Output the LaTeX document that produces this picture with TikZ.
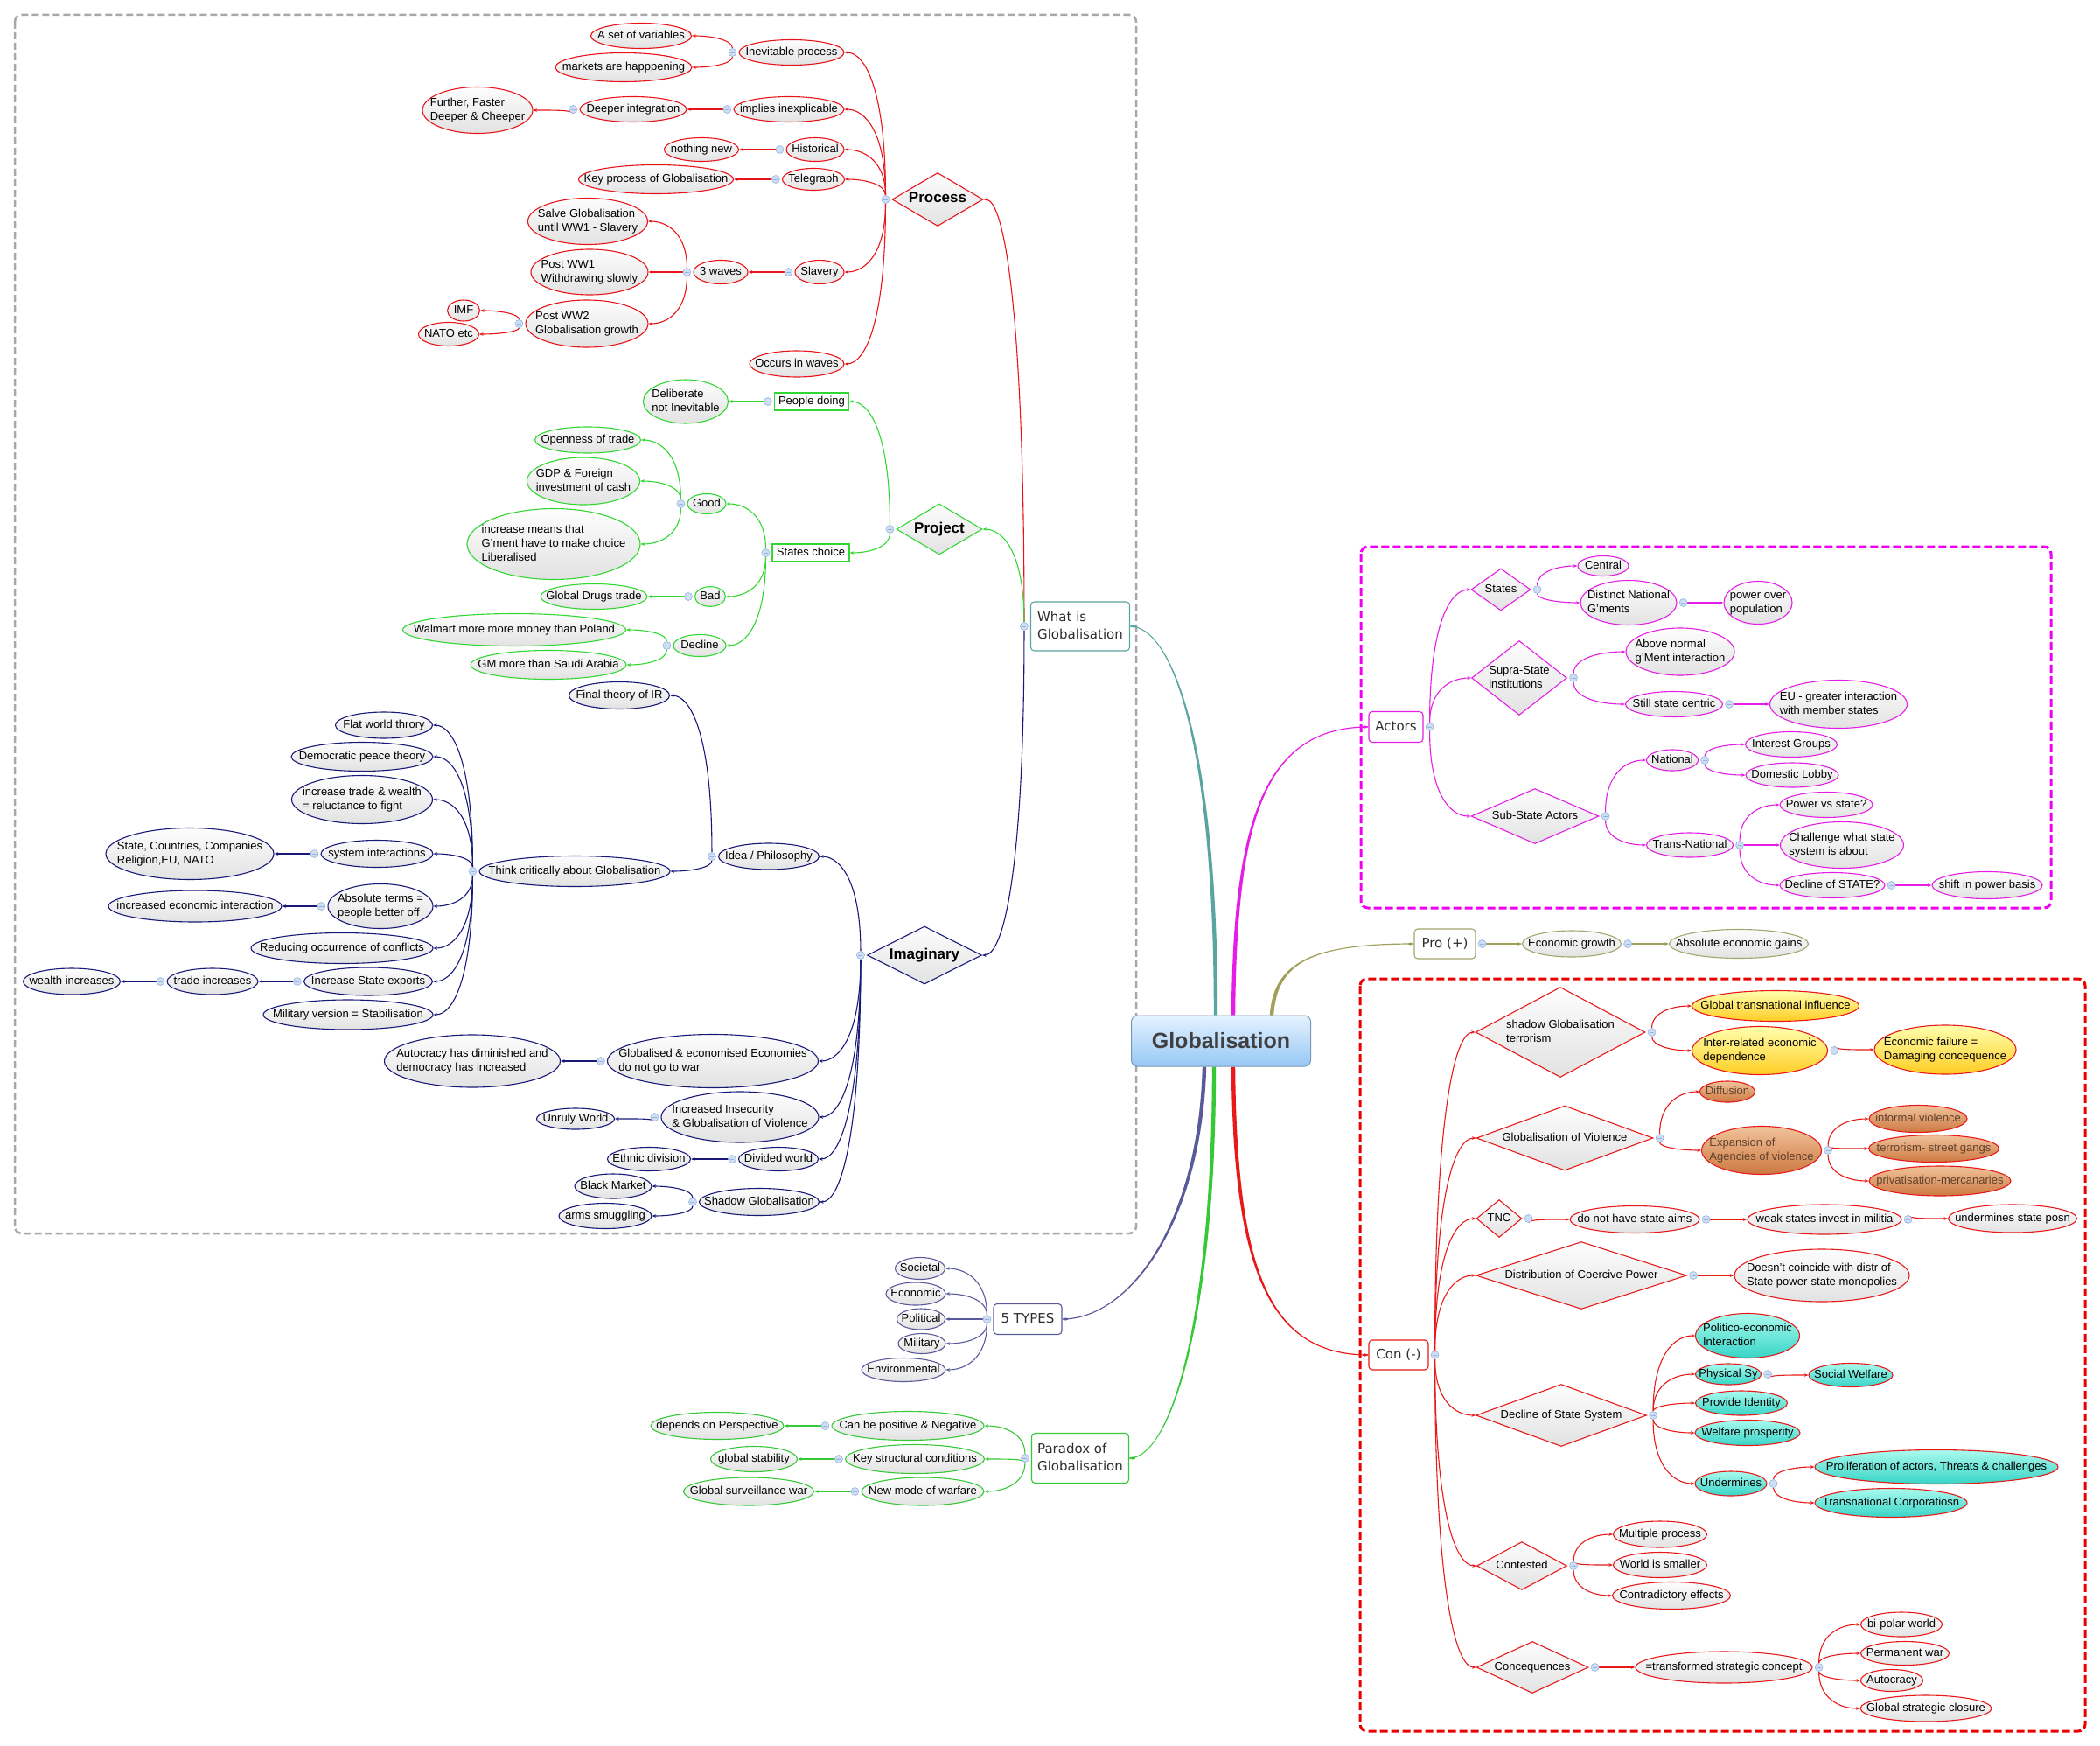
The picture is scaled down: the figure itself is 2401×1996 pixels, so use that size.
\documentclass[tikz,border=0pt]{standalone}
\usepackage{fontspec}
\setmainfont{Liberation Sans}
\newfontfamily\dvfont{DejaVu Sans}
\usetikzlibrary{shapes.geometric,arrows.meta,calc}
\pgfdeclarelayer{edges}
\pgfsetlayers{edges,main}
\definecolor{cP}{RGB}{232,20,25}
\definecolor{cJ}{RGB}{50,215,50}
\definecolor{cI}{RGB}{25,25,120}
\definecolor{cT}{RGB}{90,90,155}
\definecolor{cG}{RGB}{55,200,55}
\definecolor{cA}{RGB}{228,30,228}
\definecolor{cO}{RGB}{160,160,90}
\definecolor{cC}{RGB}{232,25,25}
\definecolor{cTeal}{RGB}{90,165,160}
\definecolor{eTop}{RGB}{253,253,253}
\definecolor{eBot}{RGB}{226,226,226}
\definecolor{yTop}{RGB}{255,255,175}
\definecolor{yBot}{RGB}{255,205,35}
\definecolor{bTop}{RGB}{240,195,155}
\definecolor{bBot}{RGB}{205,120,65}
\definecolor{bTx}{RGB}{95,65,45}
\definecolor{tTop}{RGB}{170,250,238}
\definecolor{tBot}{RGB}{55,212,198}
\definecolor{kFill}{RGB}{205,222,245}
\definecolor{kDraw}{RGB}{150,180,220}
\definecolor{gTop}{RGB}{228,242,255}
\definecolor{gBot}{RGB}{150,200,245}
\definecolor{gDraw}{RGB}{125,150,180}
\definecolor{gTxt}{RGB}{64,64,64}
\definecolor{boxTxt}{RGB}{45,45,45}
\definecolor{dashG}{RGB}{168,168,168}
\definecolor{dashM}{RGB}{240,0,240}
\definecolor{dashR}{RGB}{235,0,0}
\definecolor{oBord}{RGB}{165,165,110}

\newcommand\zb[1]{\makebox[0pt]{\begin{tabular}{@{}l@{}}#1\end{tabular}}}
\newcommand\nd[6]{\node[#1,minimum width=#4pt,minimum height=#5pt] (#2) at (#3) {\zb{#6}};}
\newcommand\kl[1]{\node[knob] (k#1) at ($(#1.west)+(-7,0)$) {};}
\newcommand\kr[1]{\node[knob] (k#1) at ($(#1.east)+(7,0)$) {};}
\newcommand\E[3]{\draw[lk=#1] (#2) .. controls ($(#2)!0.75!(#2|-#3)$) and ($(#3)!0.5!(#2|-#3)$) .. (#3);}
\newcommand\trunk[7]{%
 \fill[#1] ($(#2)+(#6,0)$) .. controls ($(#3)+(#6,0)$) and ($(#4)+(0,#7)$) .. ($(#5)+(0,#7)$) -- ($(#5)+(0,{-(#7)})$) .. controls ($(#4)+(0,{-(#7)})$) and ($(#3)+({-(#6)},0)$) .. ($(#2)+({-(#6)},0)$) -- cycle;
 \draw[lk=#1] ($(#5)+({-3*(#6)},0)$) -- (#5);}

\tikzset{
 nbase/.style={inner sep=0pt, font=\fontsize{13}{16}\selectfont, line width=1.1pt},
 gf/.style={top color=eTop, bottom color=eBot},
 el/.style={nbase, ellipse, draw=#1, gf},
 dm/.style={nbase, diamond, draw=#1, gf},
 rb/.style={nbase, rectangle, draw=#1, fill=white},
 tb/.style={nbase, rectangle, rounded corners=4pt, draw=#1, fill=white, text=boxTxt, font=\dvfont\fontsize{15}{20}\selectfont},
 bf/.style={font=\bfseries\fontsize{17}{20}\selectfont},
 yel/.style={top color=yTop, bottom color=yBot},
 brn/.style={top color=bTop, bottom color=bBot, text=bTx},
 tea/.style={top color=tTop, bottom color=tBot},
 lk/.style={draw=#1, line width=1.1pt, -{Stealth[length=4.5pt,width=3.6pt]}},
 knob/.style={circle, minimum size=9pt, inner sep=0pt, fill=kFill, draw=kDraw, line width=0.6pt,
   path picture={\draw[kDraw, line width=0.9pt] ([xshift=2pt]path picture bounding box.west) -- ([xshift=-2pt]path picture bounding box.east);}},
 ctr/.style={rectangle, rounded corners=7pt, draw=gDraw, line width=1pt, top color=gTop, bottom color=gBot,
   inner sep=0pt, text=gTxt, font=\bfseries\fontsize{25}{28}\selectfont},
}

\begin{document}
\begin{tikzpicture}[x=1pt,y=-1pt]
\useasboundingbox (0,0) rectangle (2401,1996);

% centre
\node[ctr, minimum width=205pt, minimum height=58pt] (glob) at (1396,1190) {Globalisation};

% first level boxes
\nd{tb=cTeal}{whatis}{1235,716}{113}{56}{What is\\Globalisation}
\nd{tb=cT}{types}{1175,1508}{78}{35}{5 TYPES}
\nd{tb=cG}{para}{1235,1667}{111}{57}{Paradox of\\Globalisation}
\nd{tb=cA}{actors}{1596,831}{62}{35}{Actors}
\nd{tb=oBord}{pro}{1652,1079}{70}{34}{Pro (+)}
\nd{tb=cC}{con}{1599,1549}{68}{34}{Con (-)}

% Process
\nd{dm=cP,bf}{proc}{1072,228}{104}{61}{Process}
\nd{el=cP}{inev}{905,60}{120}{29}{Inevitable process}
\nd{el=cP}{aset}{733,41}{115}{29}{A set of variables}
\nd{el=cP}{mkts}{713,77}{156}{33}{markets are happpening}
\nd{el=cP}{impl}{902,125}{126}{29}{implies inexplicable}
\nd{el=cP}{deeper}{724,125}{122}{29}{Deeper integration}
\nd{el=cP}{further}{546,126}{126}{53}{Further, Faster\\Deeper \& Cheeper}
\nd{el=cP}{hist}{932,171}{66}{27}{Historical}
\nd{el=cP}{nothing}{802,171}{85}{27}{nothing new}
\nd{el=cP}{tele}{930,205}{71}{25}{Telegraph}
\nd{el=cP}{keyp}{750,205}{177}{33}{Key process of Globalisation}
\nd{el=cP}{slav}{937,311}{56}{27}{Slavery}
\nd{el=cP}{wav}{824,311}{62}{27}{3 waves}
\nd{el=cP}{salve}{672,253}{137}{53}{Salve Globalisation\\until WW1 - Slavery}
\nd{el=cP}{pwwa}{674,311}{134}{52}{Post WW1\\Withdrawing slowly}
\nd{el=cP}{pwwb}{671,370}{140}{54}{Post WW2\\Globalisation growth}
\nd{el=cP}{imf}{530,355}{37}{24}{IMF}
\nd{el=cP}{nato}{513,382}{69}{27}{NATO etc}
\nd{el=cP}{occ}{911,416}{108}{30}{Occurs in waves}

% Project
\nd{dm=cJ,bf}{proj}{1074,605}{98}{58}{Project}
\nd{rb=cJ}{people}{928,459}{85}{20}{People doing}
\nd{el=cJ}{delib}{784,459}{97}{50}{Deliberate\\not Inevitable}
\nd{rb=cJ}{stch}{927,632}{88}{20}{States choice}
\nd{el=cJ}{good}{808,576}{44}{23}{Good}
\nd{el=cJ}{open}{672,503}{121}{30}{Openness of trade}
\nd{el=cJ}{gdp}{667,550}{129}{54}{GDP \& Foreign\\investment of cash}
\nd{el=cJ}{incm}{633,622}{198}{81}{increase means that\\G'ment have to make choice\\Liberalised}
\nd{el=cJ}{bad}{812,682}{35}{21}{Bad}
\nd{el=cJ}{drugs}{679,682}{122}{29}{Global Drugs trade}
\nd{el=cJ}{decl}{800,738}{60}{25}{Decline}
\nd{el=cJ}{walm}{588,720}{255}{37}{Walmart more more money than Poland}
\nd{el=cJ}{gm}{627,760}{178}{33}{GM more than Saudi Arabia}

% Imaginary
\nd{dm=cI,bf}{imag}{1057,1092}{131}{66}{Imaginary}
\nd{el=cI}{idea}{879,979}{115}{30}{Idea / Philosophy}
\nd{el=cI}{final}{708,795}{115}{31}{Final theory of IR}
\nd{el=cI}{think}{657,996}{218}{35}{Think critically about Globalisation}
\nd{el=cI}{flat}{439,829}{111}{30}{Flat world throry}
\nd{el=cI}{demo}{414,865}{162}{33}{Democratic peace theory}
\nd{el=cI}{inct}{414,914}{161}{55}{increase trade \& wealth\\= reluctance to fight}
\nd{el=cI}{sysi}{431,976}{128}{31}{system interactions}
\nd{el=cI}{stco}{217,976}{192}{59}{State, Countries, Companies\\Religion,EU, NATO}
\nd{el=cI}{abso}{435,1036}{120}{51}{Absolute terms =\\people better off}
\nd{el=cI}{ince}{223,1036}{198}{36}{increased economic interaction}
\nd{el=cI}{redu}{391,1084}{208}{35}{Reducing occurrence of conflicts}
\nd{el=cI}{incx}{421,1122}{147}{32}{Increase State exports}
\nd{el=cI}{trin}{243,1122}{104}{30}{trade increases}
\nd{el=cI}{wlin}{82,1122}{111}{30}{wealth increases}
\nd{el=cI}{mili}{398,1160}{194}{34}{Military version = Stabilisation}
\nd{el=cI}{gloe}{815,1213}{241}{61}{Globalised \& economised Economies\\do not go to war}
\nd{el=cI}{auto}{540,1213}{201}{60}{Autocracy has diminished and\\democracy has increased}
\nd{el=cI}{insc}{846,1277}{180}{58}{Increased Insecurity\\\& Globalisation of Violence}
\nd{el=cI}{unru}{658,1279}{89}{24}{Unruly World}
\nd{el=cI}{divw}{890,1325}{91}{27}{Divided world}
\nd{el=cI}{ethn}{742,1325}{95}{27}{Ethnic division}
\nd{el=cI}{shdw}{868,1374}{137}{31}{Shadow Globalisation}
\nd{el=cI}{blkm}{701,1356}{88}{28}{Black Market}
\nd{el=cI}{arms}{692,1390}{106}{29}{arms smuggling}

% 5 types
\nd{el=cT}{soc}{1052,1450}{57}{25}{Societal}
\nd{el=cT}{eco}{1047,1479}{68}{26}{Economic}
\nd{el=cT}{pol}{1053,1508}{55}{24}{Political}
\nd{el=cT}{mil}{1054,1536}{54}{23}{Military}
\nd{el=cT}{env}{1033,1566}{96}{27}{Environmental}

% Paradox
\nd{el=cG}{canb}{1038,1630}{174}{33}{Can be positive \& Negative}
\nd{el=cG}{depe}{820,1630}{152}{31}{depends on Perspective}
\nd{el=cG}{keys}{1046,1668}{159}{33}{Key structural conditions}
\nd{el=cG}{gsta}{862,1668}{99}{29}{global stability}
\nd{el=cG}{newm}{1055,1705}{140}{32}{New mode of warfare}
\nd{el=cG}{gsur}{856,1705}{149}{32}{Global surveillance war}

% Actors
\nd{dm=cA}{stat}{1716,674}{68}{48}{States}
\nd{el=cA}{cent}{1833,647}{58}{23}{Central}
\nd{el=cA}{dist}{1862,689}{110}{51}{Distinct National\\G'ments}
\nd{el=cA}{powr}{2010,689}{78}{49}{power over\\population}
\nd{dm=cA}{supr}{1737,775}{109}{85}{Supra-State\\institutions}
\nd{el=cA}{abov}{1921,745}{124}{54}{Above normal\\g'Ment interaction}
\nd{el=cA}{stil}{1914,805}{111}{29}{Still state centric}
\nd{el=cA}{eugr}{2102,805}{157}{55}{EU - greater interaction\\with member states}
\nd{dm=cA}{subs}{1755,933}{146}{63}{Sub-State Actors}
\nd{el=cA}{natl}{1912,869}{59}{24}{National}
\nd{el=cA}{intg}{2048,851}{105}{29}{Interest Groups}
\nd{el=cA}{doml}{2049,886}{106}{28}{Domestic Lobby}
\nd{el=cA}{trns}{1932,966}{99}{28}{Trans-National}
\nd{el=cA}{pvs}{2088,920}{106}{29}{Power vs state?}
\nd{el=cA}{chal}{2106,966}{141}{53}{Challenge what state\\system is about}
\nd{el=cA}{dcst}{2095,1012}{120}{29}{Decline of STATE?}
\nd{el=cA}{shft}{2272,1012}{126}{31}{shift in power basis}

% Pro
\nd{el=oBord}{egr}{1797,1079}{113}{30}{Economic growth}
\nd{el=oBord}{absg}{1988,1079}{159}{33}{Absolute economic gains}

% Con
\nd{dm=cC}{shg}{1784,1180}{194}{103}{shadow Globalisation\\terrorism}
\nd{el=cC,yel}{gti}{2030,1150}{191}{35}{Global transnational influence}
\nd{el=cC,yel}{irel}{2012,1201}{155}{55}{Inter-related economic\\dependence}
\nd{el=cC,yel}{efai}{2224,1200}{162}{56}{Economic failure =\\Damaging concequence}
\nd{dm=cC}{gov}{1789,1301}{202}{74}{Globalisation of Violence}
\nd{el=cC,brn}{diff}{1975,1248}{63}{24}{Diffusion}
\nd{el=cC,brn}{expa}{2014,1315}{137}{55}{Expansion of\\Agencies of violence}
\nd{el=cC,brn}{info}{2193,1279}{112}{31}{informal violence}
\nd{el=cC,brn}{terr}{2211,1313}{149}{31}{terrorism- street gangs}
\nd{el=cC,brn}{priv}{2218,1350}{162}{34}{privatisation-mercanaries}
\nd{dm=cC}{tnc}{1714,1393}{52}{43}{TNC}
\nd{el=cC}{dono}{1869,1394}{148}{31}{do not have state aims}
\nd{el=cC}{weak}{2086,1394}{176}{34}{weak states invest in militia}
\nd{el=cC}{undr}{2301,1393}{147}{32}{undermines state posn}
\nd{dm=cC}{dcp}{1808,1458}{241}{77}{Distribution of Coercive Power}
\nd{el=cC}{dsnt}{2083,1458}{200}{60}{Doesn't coincide with distr of\\State power-state monopolies}
\nd{dm=cC}{dss}{1785,1618}{195}{71}{Decline of State System}
\nd{el=cC,tea}{poli}{1998,1527}{119}{51}{Politico-economic\\Interaction}
\nd{el=cC,tea}{phys}{1976,1571}{75}{24}{Physical Sy}
\nd{el=cC,tea}{socw}{2116,1572}{96}{27}{Social Welfare}
\nd{el=cC,tea}{prov}{1991,1604}{105}{28}{Provide Identity}
\nd{el=cC,tea}{welf}{1998,1638}{120}{29}{Welfare prosperity}
\nd{el=cC,tea}{undm}{1979,1696}{82}{28}{Undermines}
\nd{el=cC,tea}{prol}{2214,1677}{278}{39}{Proliferation of actors, Threats \& challenges}
\nd{el=cC,tea}{trco}{2162,1718}{174}{33}{Transnational Corporatiosn}
\nd{dm=cC}{cont}{1740,1790}{103}{55}{Contested}
\nd{el=cC}{mult}{1898,1754}{107}{30}{Multiple process}
\nd{el=cC}{wrld}{1898,1789}{107}{29}{World is smaller}
\nd{el=cC}{ctrd}{1911,1824}{135}{31}{Contradictory effects}
\nd{dm=cC}{cnsq}{1752,1906}{128}{59}{Concequences}
\nd{el=cC}{trsf}{1971,1906}{202}{36}{=transformed strategic concept}
\nd{el=cC}{bipo}{2174,1857}{93}{28}{bi-polar world}
\nd{el=cC}{perm}{2178,1890}{101}{27}{Permanent war}
\nd{el=cC}{autc}{2163,1921}{71}{25}{Autocracy}
\nd{el=cC}{gscl}{2202,1953}{150}{30}{Global strategic closure}

% knobs
\kl{whatis}\kl{proc}\kl{inev}\kl{impl}\kl{deeper}\kl{hist}\kl{tele}\kl{slav}\kl{wav}\kl{pwwb}
\kl{proj}\kl{people}\kl{stch}\kl{good}\kl{bad}\kl{decl}
\kl{imag}\kl{idea}\kl{think}\kl{sysi}\kl{abso}\kl{incx}\kl{trin}\kl{gloe}\kl{insc}\kl{divw}\kl{shdw}
\kl{types}\kl{para}\kl{canb}\kl{keys}\kl{newm}
\kr{actors}\kr{stat}\kr{dist}\kr{supr}\kr{stil}\kr{subs}\kr{natl}\kr{trns}\kr{dcst}
\kr{pro}\kr{egr}
\kr{con}\kr{shg}\kr{irel}\kr{gov}\kr{expa}\kr{tnc}\kr{dono}\kr{weak}\kr{dcp}\kr{dss}\kr{phys}\kr{undm}\kr{cont}\kr{cnsq}\kr{trsf}

\coordinate (sTeal) at ($(glob.north)+(-6,0)$);
\coordinate (sMag) at ($(glob.north)+(14,0)$);
\coordinate (sOli) at ($(glob.north)+(58,0)$);
\coordinate (sRed) at ($(glob.south)+(14,0)$);
\coordinate (sGrn) at ($(glob.south)+(-8,0)$);
\coordinate (sSla) at ($(glob.south)+(-19,0)$);

\begin{pgfonlayer}{edges}
\draw[dashG, line width=2.5pt, dash pattern=on 8pt off 4pt, rounded corners=8pt] (17,17) rectangle (1299,1410);
\draw[dashM, line width=3pt, dash pattern=on 9pt off 4pt, rounded corners=8pt] (1556,625) rectangle (2345,1038);
\draw[dashR, line width=3pt, dash pattern=on 9pt off 4pt, rounded corners=8pt] (1555,1119) rectangle (2384,1979);

\trunk{cTeal}{sTeal}{1390,850}{1340,716}{whatis.east}{-2.2}{0.6}
\trunk{cA}{sMag}{1412,950}{1440,831}{actors.west}{2.2}{0.6}
\trunk{cO}{sOli}{1458,1100}{1500,1079}{pro.west}{2.2}{0.6}
\trunk{cC}{sRed}{1412,1450}{1450,1549}{con.west}{2.2}{-0.6}
\trunk{cG}{sGrn}{1388,1500}{1340,1667}{para.east}{-2.2}{-0.6}
\trunk{cT}{sSla}{1372,1400}{1290,1508}{types.east}{-2.2}{-0.6}

% what is
\E{cP}{kwhatis}{proc.east}
\E{cJ}{kwhatis}{proj.east}
\E{cI}{kwhatis}{imag.east}
% process
\E{cP}{kproc}{inev.east}\E{cP}{kproc}{impl.east}\E{cP}{kproc}{hist.east}
\E{cP}{kproc}{tele.east}\E{cP}{kproc}{slav.east}\E{cP}{kproc}{occ.east}
\E{cP}{kinev}{aset.east}\E{cP}{kinev}{mkts.east}
\E{cP}{kimpl}{deeper.east}\E{cP}{kdeeper}{further.east}
\E{cP}{khist}{nothing.east}\E{cP}{ktele}{keyp.east}\E{cP}{kslav}{wav.east}
\E{cP}{kwav}{salve.east}\E{cP}{kwav}{pwwa.east}\E{cP}{kwav}{pwwb.east}
\E{cP}{kpwwb}{imf.east}\E{cP}{kpwwb}{nato.east}
% project
\E{cJ}{kproj}{people.east}\E{cJ}{kproj}{stch.east}
\E{cJ}{kpeople}{delib.east}
\E{cJ}{kstch}{good.east}\E{cJ}{kstch}{bad.east}\E{cJ}{kstch}{decl.east}
\E{cJ}{kgood}{open.east}\E{cJ}{kgood}{gdp.east}\E{cJ}{kgood}{incm.east}
\E{cJ}{kbad}{drugs.east}
\E{cJ}{kdecl}{walm.east}\E{cJ}{kdecl}{gm.east}
% imaginary
\E{cI}{kimag}{idea.east}\E{cI}{kimag}{gloe.east}\E{cI}{kimag}{insc.east}
\E{cI}{kimag}{divw.east}\E{cI}{kimag}{shdw.east}
\E{cI}{kidea}{final.east}\E{cI}{kidea}{think.east}
\E{cI}{kthink}{flat.east}\E{cI}{kthink}{demo.east}\E{cI}{kthink}{inct.east}
\E{cI}{kthink}{sysi.east}\E{cI}{kthink}{abso.east}\E{cI}{kthink}{redu.east}
\E{cI}{kthink}{incx.east}\E{cI}{kthink}{mili.east}
\E{cI}{ksysi}{stco.east}\E{cI}{kabso}{ince.east}
\E{cI}{kincx}{trin.east}\E{cI}{ktrin}{wlin.east}
\E{cI}{kgloe}{auto.east}\E{cI}{kinsc}{unru.east}\E{cI}{kdivw}{ethn.east}
\E{cI}{kshdw}{blkm.east}\E{cI}{kshdw}{arms.east}
% 5 types
\E{cT}{ktypes}{soc.east}\E{cT}{ktypes}{eco.east}\E{cT}{ktypes}{pol.east}
\E{cT}{ktypes}{mil.east}\E{cT}{ktypes}{env.east}
% paradox
\E{cG}{kpara}{canb.east}\E{cG}{kpara}{keys.east}\E{cG}{kpara}{newm.east}
\E{cG}{kcanb}{depe.east}\E{cG}{kkeys}{gsta.east}\E{cG}{knewm}{gsur.east}
% actors
\E{cA}{kactors}{stat.west}\E{cA}{kactors}{supr.west}\E{cA}{kactors}{subs.west}
\E{cA}{kstat}{cent.west}\E{cA}{kstat}{dist.west}\E{cA}{kdist}{powr.west}
\E{cA}{ksupr}{abov.west}\E{cA}{ksupr}{stil.west}\E{cA}{kstil}{eugr.west}
\E{cA}{ksubs}{natl.west}\E{cA}{ksubs}{trns.west}
\E{cA}{knatl}{intg.west}\E{cA}{knatl}{doml.west}
\E{cA}{ktrns}{pvs.west}\E{cA}{ktrns}{chal.west}\E{cA}{ktrns}{dcst.west}
\E{cA}{kdcst}{shft.west}
% pro
\E{cO}{kpro}{egr.west}\E{cO}{kegr}{absg.west}
% con
\E{cC}{kcon}{shg.west}\E{cC}{kcon}{gov.west}\E{cC}{kcon}{tnc.west}
\E{cC}{kcon}{dcp.west}\E{cC}{kcon}{dss.west}\E{cC}{kcon}{cont.west}\E{cC}{kcon}{cnsq.west}
\E{cC}{kshg}{gti.west}\E{cC}{kshg}{irel.west}\E{cC}{kirel}{efai.west}
\E{cC}{kgov}{diff.west}\E{cC}{kgov}{expa.west}
\E{cC}{kexpa}{info.west}\E{cC}{kexpa}{terr.west}\E{cC}{kexpa}{priv.west}
\E{cC}{ktnc}{dono.west}\E{cC}{kdono}{weak.west}\E{cC}{kweak}{undr.west}
\E{cC}{kdcp}{dsnt.west}
\E{cC}{kdss}{poli.west}\E{cC}{kdss}{phys.west}\E{cC}{kdss}{prov.west}
\E{cC}{kdss}{welf.west}\E{cC}{kdss}{undm.west}
\E{cC}{kphys}{socw.west}
\E{cC}{kundm}{prol.west}\E{cC}{kundm}{trco.west}
\E{cC}{kcont}{mult.west}\E{cC}{kcont}{wrld.west}\E{cC}{kcont}{ctrd.west}
\E{cC}{kcnsq}{trsf.west}
\E{cC}{ktrsf}{bipo.west}\E{cC}{ktrsf}{perm.west}\E{cC}{ktrsf}{autc.west}\E{cC}{ktrsf}{gscl.west}
\end{pgfonlayer}
\end{tikzpicture}
\end{document}
